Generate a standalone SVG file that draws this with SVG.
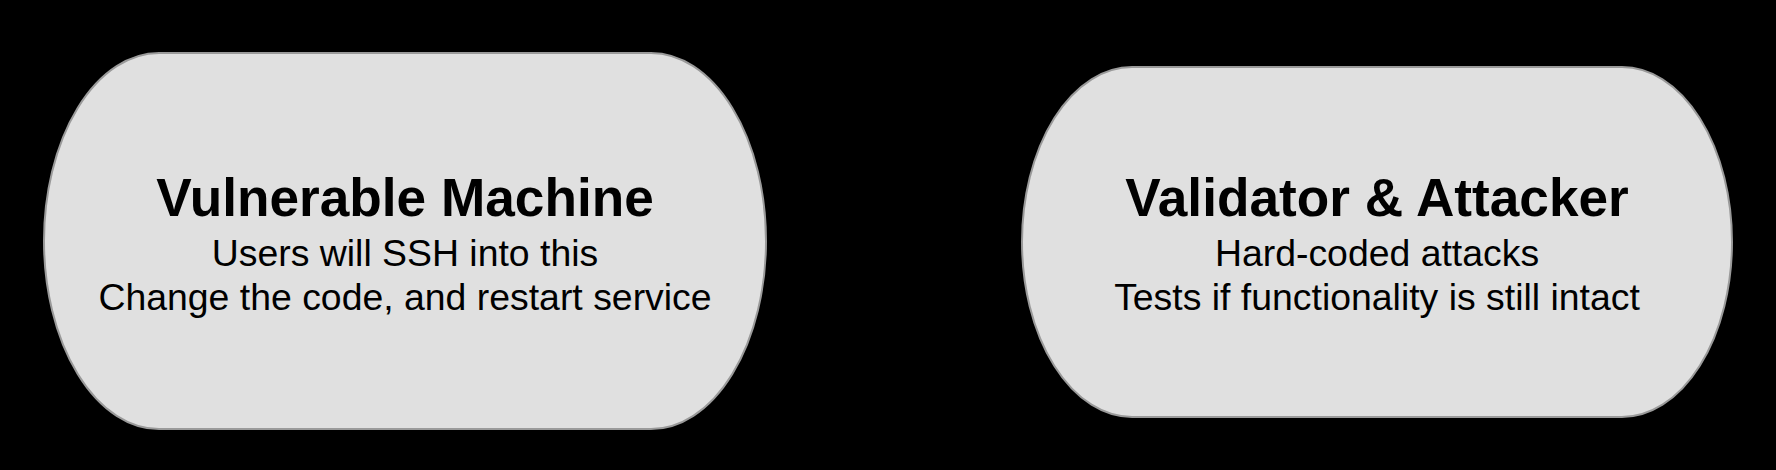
<svg xmlns="http://www.w3.org/2000/svg" width="1776" height="470" viewBox="0 0 1776 470">
<style>
.shape{fill:#e0e0e0;stroke:#9a9a9a;stroke-width:2}
.title{font-family:"Liberation Sans",Arial,sans-serif;font-weight:bold;font-size:53.2px;fill:#000;text-anchor:middle}
.sub{font-family:"Liberation Sans",Arial,sans-serif;font-size:37.4px;fill:#000;text-anchor:middle}
</style>
<rect x="0" y="0" width="1776" height="470" fill="#000"/>
<g id="connectors"/>
<g id="node-vulnerable-machine">
<rect class="shape" x="44" y="53" width="722" height="376" rx="115" ry="188"/>
<text class="title" x="405" y="216">Vulnerable Machine</text>
<text class="sub" x="405" y="266">Users will SSH into this</text>
<text class="sub" x="405" y="310">Change the code, and restart service</text>
</g>
<g id="node-validator-attacker">
<rect class="shape" x="1022" y="67" width="710" height="350" rx="110" ry="175"/>
<text class="title" x="1377" y="216">Validator &amp; Attacker</text>
<text class="sub" x="1377" y="266">Hard-coded attacks</text>
<text class="sub" x="1377" y="310">Tests if functionality is still intact</text>
</g>
</svg>
